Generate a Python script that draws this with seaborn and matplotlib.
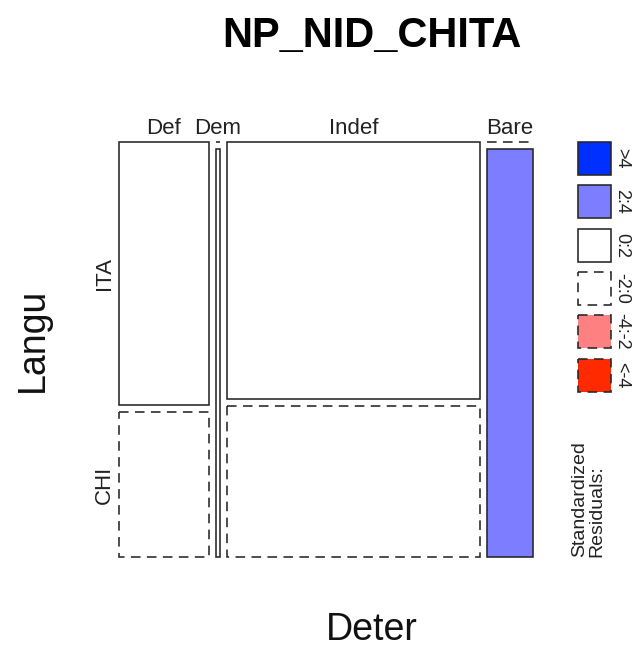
import numpy as np
import pandas as pd
import matplotlib
matplotlib.use("Agg")
import matplotlib.pyplot as plt
from matplotlib.patches import Rectangle
import seaborn as sns

# ---- data ----
deter_levels = ["Def", "Dem", "Indef", "Bare"]
langu_levels = ["ITA", "CHI"]
count_ita = [29, 0, 80, 0]
count_chi = [16, 2, 47, 23]

legend_labels = [">4", "2:4", "0:2", "-2:0", "-4:-2", "<-4"]
legend_colors = ["#0030ff", "#7d7dff", "#ffffff", "#ffffff", "#ff8080", "#ff2a00"]
legend_dashed = [False, False, False, True, True, True]

title = "NP_NID_CHITA"
xlab = "Deter"
ylab = "Langu"

sns.set_theme(style="white")
plt.rcParams["font.family"] = ["Liberation Sans", "DejaVu Sans"]

W, H = 635, 648
fig = plt.figure(figsize=(W / 100, H / 100), dpi=100)


def fig_rect(x0, y0, x1, y1):
    return [x0 / W, 1 - y1 / H, (x1 - x0) / W, (y1 - y0) / H]


df = pd.DataFrame({"ITA": count_ita, "CHI": count_chi}, index=deter_levels)
N = df.values.sum()
col_tot = df.sum(axis=1)
row_tot = df.sum(axis=0)
expected = np.outer(col_tot, row_tot) / N
resid = (df.values - expected) / np.sqrt(expected)


def shade(r):
    if r > 4:
        return 0
    if r > 2:
        return 1
    if r >= 0:
        return 2
    if r > -2:
        return 3
    if r > -4:
        return 4
    return 5


ax = fig.add_axes(fig_rect(119, 142, 533, 557))
ax.set_xlim(0, 1)
ax.set_ylim(1, 0)
ax.axis("off")

gap_x = 0.017
gap_y = 0.017
avail_w = 1 - gap_x * (len(deter_levels) - 1)
avail_h = 1 - gap_y * (len(langu_levels) - 1)
lw = 1.15
edge = "#262626"
dash = (0, (6, 4))

x_cur = 0.0
for j, d in enumerate(deter_levels):
    w = col_tot[d] / N * avail_w
    y_cur = 0.0
    for i, l in enumerate(langu_levels):
        c = df.loc[d, l]
        h = c / col_tot[d] * avail_h
        k = shade(resid[j, i])
        ls = dash if legend_dashed[k] else "solid"
        if c == 0:
            ax.plot([x_cur, x_cur + w], [y_cur, y_cur], color=edge,
                    lw=lw, linestyle=ls, clip_on=False)
        else:
            ax.add_patch(Rectangle((x_cur, y_cur), w, h, facecolor=legend_colors[k],
                                   edgecolor=edge, lw=lw, linestyle=ls,
                                   clip_on=False))
        if j == 0:
            ax.text(-0.036, y_cur + h / 2, l, rotation=90, ha="center", va="center",
                    fontsize=16, color="#222222")
        y_cur += h + gap_y
    ax.text(x_cur + w / 2, -0.02, d, ha="center", va="baseline", fontsize=16,
            color="#222222")
    x_cur += w + gap_x

# legend
lax = fig.add_axes(fig_rect(560, 130, 635, 570))
lax.set_xlim(560, 635)
lax.set_ylim(570, 130)
lax.axis("off")
box = 33
step = 43.3
for k, (lab, colr, dsh) in enumerate(zip(legend_labels, legend_colors, legend_dashed)):
    top = 142 + k * step
    lax.add_patch(Rectangle((578, top), box, box, facecolor=colr, edgecolor=edge,
                            lw=lw, linestyle=dash if dsh else "solid", clip_on=False))
    lax.text(622, top + box / 2, lab, rotation=270, ha="center", va="center",
             fontsize=13, color="#222222")
lax.text(588, 557, "Standardized\nResiduals:", rotation=90, ha="center", va="bottom",
         multialignment="left", fontsize=14, color="#222222", linespacing=1.05)

fig.text(372 / W, 1 - 47 / H, title, ha="center", va="baseline", fontsize=30,
         fontweight="bold", color="black")
fig.text(372 / W, 1 - 640 / H, xlab, ha="center", va="baseline", fontsize=27,
         color="#111111")
fig.text(33 / W, 1 - 340 / H, ylab, rotation=90, ha="center", va="center",
         fontsize=27, color="#111111")

fig.savefig("out.png", dpi=100, facecolor="white")
